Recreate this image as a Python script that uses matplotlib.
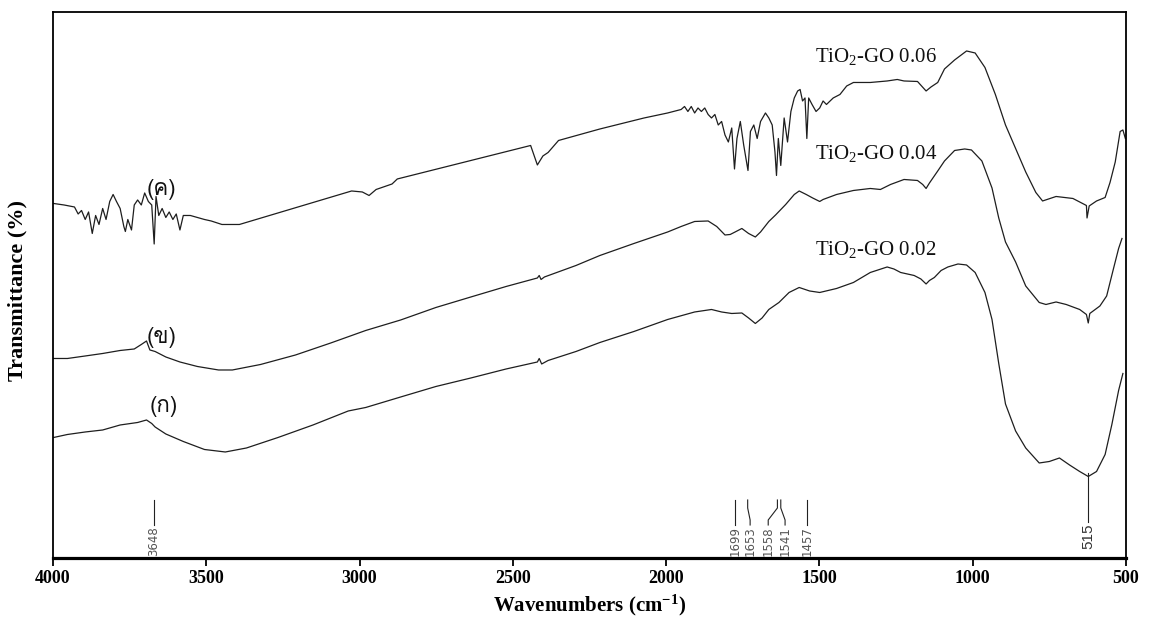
import matplotlib
matplotlib.use('Agg')
import matplotlib.pyplot as plt
from matplotlib import font_manager, ft2font

# FTIR spectra (wavenumber cm-1, transmittance in arbitrary %)
wn_006 = [3998, 3964, 3930, 3918, 3907, 3895, 3884, 3872, 3861, 3850, 3838, 3827, 3815, 3804, 3793,
          3781, 3769, 3764, 3756, 3744, 3735, 3724, 3712, 3701, 3689, 3678, 3670, 3664, 3655, 3644,
          3632, 3621, 3609, 3598, 3586, 3575, 3552, 3529, 3506, 3484, 3449, 3392, 3026, 2991, 2969,
          2946, 2894, 2877, 2442, 2420, 2402, 2385, 2351, 2216, 2072, 1995, 1951, 1940, 1929, 1918,
          1907, 1896, 1885, 1874, 1863, 1852, 1841, 1830, 1819, 1808, 1797, 1786, 1777, 1769, 1758,
          1747, 1733, 1725, 1714, 1703, 1692, 1676, 1665, 1654, 1645, 1640, 1634, 1626, 1615, 1604,
          1593, 1582, 1571, 1563, 1555, 1547, 1541, 1535, 1524, 1511, 1499, 1488, 1477, 1455, 1433,
          1411, 1389, 1334, 1279, 1246, 1224, 1180, 1152, 1136, 1114, 1092, 1059, 1020, 992, 960,
          926, 893, 860, 827, 794, 772, 728, 673, 629, 627, 620, 596, 568, 552, 535, 519, 510, 502]
t_006 = [70.9, 70.6, 70.2, 68.8, 69.5, 67.7, 69.2, 64.9, 68.5, 66.7, 69.9, 67.7, 71.3, 72.7, 71.3,
         69.9, 66.3, 65.3, 67.7, 65.6, 70.6, 71.6, 70.6, 73.0, 71.3, 70.6, 62.8, 72.3, 68.5, 69.9,
         68.1, 69.2, 67.7, 68.8, 65.6, 68.5, 68.5, 68.1, 67.7, 67.4, 66.7, 66.7, 73.4, 73.2, 72.5,
         73.7, 74.8, 75.8, 82.5, 78.6, 80.4, 81.1, 83.5, 85.8, 88.0, 89.0, 89.7, 90.3, 89.3, 90.3,
         89.0, 90.0, 89.3, 90.0, 88.7, 88.0, 88.7, 86.6, 87.3, 84.6, 83.2, 86.0, 77.8, 83.9, 87.3,
         82.6, 77.5, 85.3, 86.6, 83.9, 87.3, 89.0, 88.0, 86.6, 81.2, 76.5, 83.9, 78.5, 88.0, 83.2,
         89.3, 92.0, 93.4, 93.7, 91.4, 92.0, 83.9, 92.0, 90.7, 89.3, 90.0, 91.4, 90.7, 92.0, 92.7,
         94.4, 95.1, 95.1, 95.4, 95.7, 95.4, 95.3, 93.4, 94.2, 95.1, 97.8, 99.6, 101.4, 101.0, 98.1,
         92.7, 86.6, 81.9, 77.2, 73.1, 71.4, 72.3, 71.9, 70.5, 68.0, 70.4, 71.4, 72.1, 75.1, 79.2,
         85.3, 85.6, 83.9]

wn_004 = [3998, 3953, 3895, 3838, 3781, 3735, 3712, 3695, 3684, 3667, 3632, 3586, 3529, 3460, 3415,
          3323, 3209, 3094, 2980, 2866, 2751, 2637, 2522, 2420, 2414, 2408, 2397, 2294, 2216, 2105,
          1995, 1951, 1907, 1863, 1835, 1808, 1791, 1775, 1753, 1731, 1709, 1692, 1665, 1643, 1610,
          1582, 1566, 1543, 1522, 1499, 1488, 1444, 1389, 1334, 1301, 1268, 1224, 1180, 1163, 1152,
          1141, 1114, 1092, 1059, 1026, 1004, 970, 937, 915, 893, 860, 827, 783, 761, 728,
          695, 651, 629, 623, 618, 585, 563, 541, 524, 513]
t_004 = [39.9, 39.9, 40.4, 40.9, 41.5, 41.8, 42.7, 43.4, 41.6, 41.3, 40.2, 39.2, 38.3, 37.6, 37.6,
         38.7, 40.6, 43.0, 45.5, 47.6, 50.1, 52.2, 54.3, 56.0, 56.5, 55.7, 56.2, 58.5, 60.5, 62.9,
         65.2, 66.3, 67.3, 67.4, 66.3, 64.6, 64.7, 65.2, 65.9, 64.9, 64.2, 65.2, 67.3, 68.6, 70.7,
         72.7, 73.4, 72.7, 72.0, 71.3, 71.7, 72.7, 73.5, 73.9, 73.7, 74.7, 75.7, 75.5, 74.7, 73.9,
         75.0, 77.4, 79.4, 81.5, 81.8, 81.6, 79.4, 74.0, 68.0, 63.2, 59.2, 54.4, 51.1, 50.7, 51.2,
         50.7, 49.7, 48.7, 47.0, 48.9, 50.4, 52.4, 57.8, 61.9, 63.9]

wn_002 = [3998, 3953, 3895, 3838, 3781, 3724, 3695, 3678, 3667, 3632, 3575, 3506, 3438, 3369, 3266,
          3152, 3037, 2980, 2866, 2751, 2637, 2522, 2420, 2414, 2406, 2385, 2294, 2216, 2105, 1995,
          1907, 1852, 1819, 1786, 1753, 1731, 1709, 1687, 1665, 1632, 1599, 1566, 1532, 1499, 1444,
          1389, 1334, 1279, 1257, 1235, 1213, 1191, 1169, 1152, 1141, 1125, 1103, 1081, 1048, 1020,
          992, 960, 937, 915, 893, 860, 827, 783, 750, 717, 684, 651, 623, 596, 568,
          546, 524, 510]
t_002 = [24.1, 24.7, 25.2, 25.6, 26.6, 27.1, 27.6, 26.9, 26.2, 24.8, 23.3, 21.7, 21.2, 22.0, 24.1,
         26.6, 29.4, 30.1, 32.2, 34.3, 36.0, 37.8, 39.2, 39.9, 38.8, 39.5, 41.3, 43.1, 45.3, 47.7,
         49.2, 49.7, 49.2, 48.9, 49.0, 48.0, 46.9, 48.0, 49.7, 51.1, 53.1, 54.1, 53.4, 53.1, 53.9,
         55.1, 57.1, 58.2, 57.8, 57.1, 56.8, 56.5, 55.8, 54.8, 55.5, 56.1, 57.5, 58.2, 58.8, 58.6,
         57.1, 53.1, 47.7, 38.9, 30.8, 25.4, 22.0, 19.0, 19.3, 20.0, 18.6, 17.3, 16.3, 17.3, 20.7,
         26.7, 33.5, 36.9]

series_names = ['TiO$_2$-GO 0.06', 'TiO$_2$-GO 0.04', 'TiO$_2$-GO 0.02']
series_tags = ['(ค)', '(ข)', '(ก)']
x_ticks = [4000, 3500, 3000, 2500, 2000, 1500, 1000, 500]

# assigned peaks: label text, where its leader starts (top) and ends (bottom)
peak_labels = ['3648', '1699', '1653', '1558', '1541', '1457']
peak_top = [3671, 1775, 1734, 1637, 1626, 1540]
peak_bottom = [3671, 1775, 1726, 1667, 1612, 1540]


def find_thai_font():
    for entry in font_manager.fontManager.ttflist:
        try:
            face = ft2font.FT2Font(entry.fname)
        except Exception:
            continue
        if ord('ค') in face.get_charmap():
            return entry.name
    return 'DejaVu Sans'


serif = 'Liberation Serif'
plt.rcParams['mathtext.fontset'] = 'custom'
plt.rcParams['mathtext.rm'] = serif
plt.rcParams['mathtext.it'] = serif + ':italic'
plt.rcParams['mathtext.bf'] = serif + ':bold'

fig = plt.figure(figsize=(11.5, 6.3), dpi=100)
ax = fig.add_axes([0.0461, 0.1143, 0.9330, 0.8659])

line_kw = dict(color='#1e1e1e', lw=0.9)
ax.plot(wn_006, t_006, **line_kw)
ax.plot(wn_004, t_004, **line_kw)
ax.plot(wn_002, t_002, **line_kw)

# sample names
for name, y in zip(series_names, [99.1, 79.8, 60.5]):
    ax.text(1516, y, name, fontsize=15, family=serif, ha='left', va='baseline', color='#111111')

thai = find_thai_font()
for tag, (x, y) in zip(series_tags, [(3694, 71.6), (3694, 42.0), (3686, 28.2)]):
    ax.text(x, y, tag, fontsize=16, family=[thai, 'DejaVu Sans'], ha='left', va='bottom', color='#111111')

# peak markers
for lbl, xt, xb in zip(peak_labels, peak_top, peak_bottom):
    ax.plot([xt, xt, xb, xb], [11.6, 10.0, 7.6, 6.6], color='#222222', lw=0.8)
    ax.text(xb, 6.3, lbl, rotation=90, ha='center', va='top', fontsize=8.5,
            family=['Liberation Sans Narrow', 'DejaVu Sans'], color='#555555')
ax.plot([624, 624], [17.0, 7.2], color='#222222', lw=0.8)
ax.text(624, 6.8, '515', rotation=90, ha='center', va='top', fontsize=11,
        family='Liberation Sans', color='#333333')

ax.set_xlim(4000, 500)
ax.set_ylim(0, 109.1)
ax.set_xticks(x_ticks)
ax.set_xticklabels([str(v) for v in x_ticks], family=serif, fontweight='bold', fontsize=13)
ax.set_yticks([])
ax.tick_params(axis='x', direction='out', length=6, width=1.3, pad=3)

for side in ['left', 'right', 'top']:
    ax.spines[side].set_linewidth(1.3)
ax.spines['bottom'].set_linewidth(2.3)

ax.set_xlabel('Wavenumbers (cm$^{\\mathbf{-1}}$)', family=serif, fontweight='bold', fontsize=15, labelpad=4)
ax.set_ylabel('Transmittance (%)', family=serif, fontweight='bold', fontsize=16)
ax.yaxis.set_label_coords(-0.024, 0.49)

plt.savefig('out.png')
plt.close()
